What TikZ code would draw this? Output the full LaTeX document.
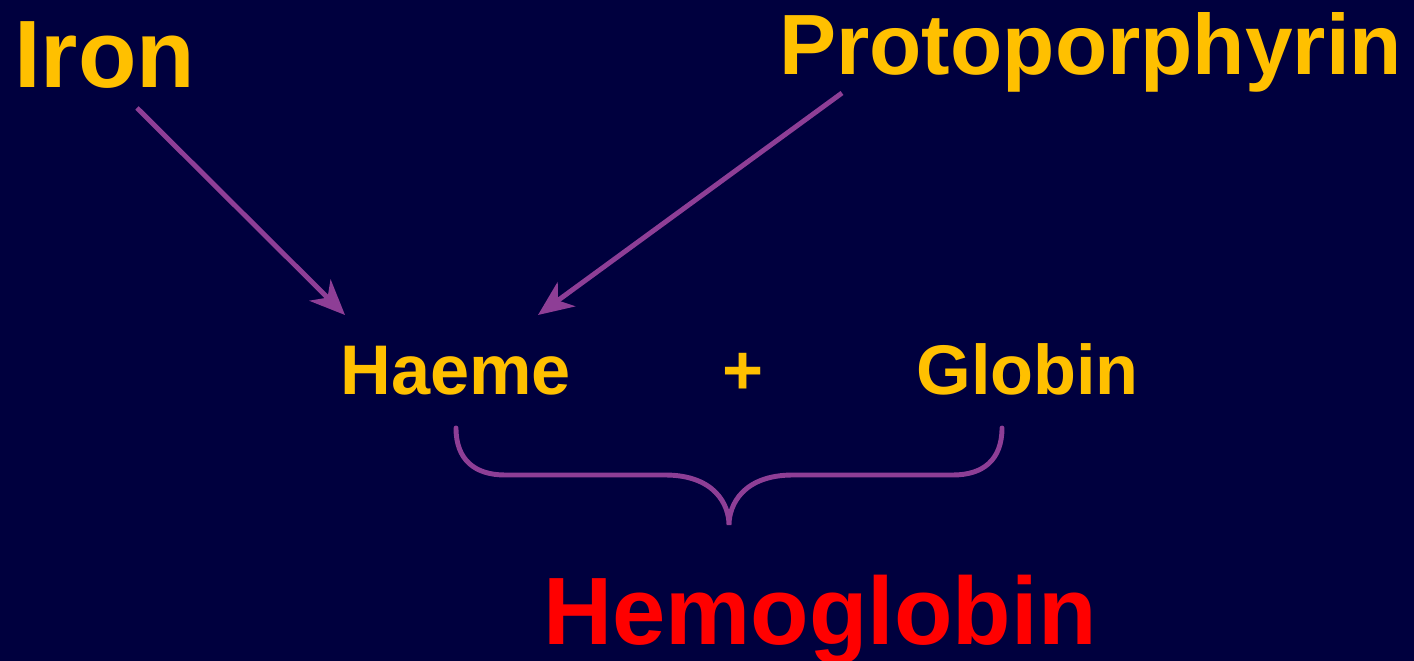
\documentclass[tikz,border=0pt]{standalone}
\usepackage{fontspec}
\setmainfont{Liberation Sans}
\usetikzlibrary{arrows.meta,calc,positioning}
\definecolor{navy}{RGB}{0,0,62}
\definecolor{gold}{RGB}{255,192,0}
\definecolor{plum}{RGB}{142,62,150}

\begin{document}
\begin{tikzpicture}[x=0.02cm,y=-0.02cm,>={Stealth[length=20pt,width=17pt,inset=6pt]},
  label/.style={inner sep=0pt,anchor=base west,text=gold,font=\bfseries},
  link/.style={plum,line width=2.8pt,->}]
  \fill[navy] (0,0) rectangle (1414,661);
  \useasboundingbox (0,0) rectangle (1414,661);
  \node[label,font=\fontsize{54.5}{60}\bfseries\selectfont] (iron) at (14,88) {Iron};
  \node[label,font=\fontsize{48.7}{56}\bfseries\selectfont] (proto) at (779,75) {Protoporphyrin};
  \node[label,font=\fontsize{40}{46}\bfseries\selectfont] (haeme) at (340,395) {Haeme};
  \node[label,font=\fontsize{40}{46}\bfseries\selectfont] (plus) at (722,395) {+};
  \node[label,font=\fontsize{40}{46}\bfseries\selectfont] (globin) at (916,395) {Globin};
  \node[label,text=red,font=\fontsize{54.5}{60}\bfseries\selectfont] (hemo) at (543,645) {Hemoglobin};
  % arrows into haeme
  \coordinate (ironend) at (137,108);
  \coordinate (protoend) at (842,93);
  \coordinate (ironhead) at (345,315);
  \coordinate (protohead) at (538,315);
  \draw[link] (ironend) -- (ironhead);
  \draw[link] (protoend) -- (protohead);
  % brace
  \draw[plum,line width=2.8pt,line cap=round]
    (456,428) .. controls (456,460) and (475,475) .. (505,475) -- (665,475)
    .. controls (715,475) and (729,505) .. (729,525)
    .. controls (729,505) and (743,475) .. (793,475) -- (953,475)
    .. controls (983,475) and (1002,460) .. (1002,428);
\end{tikzpicture}
\end{document}
